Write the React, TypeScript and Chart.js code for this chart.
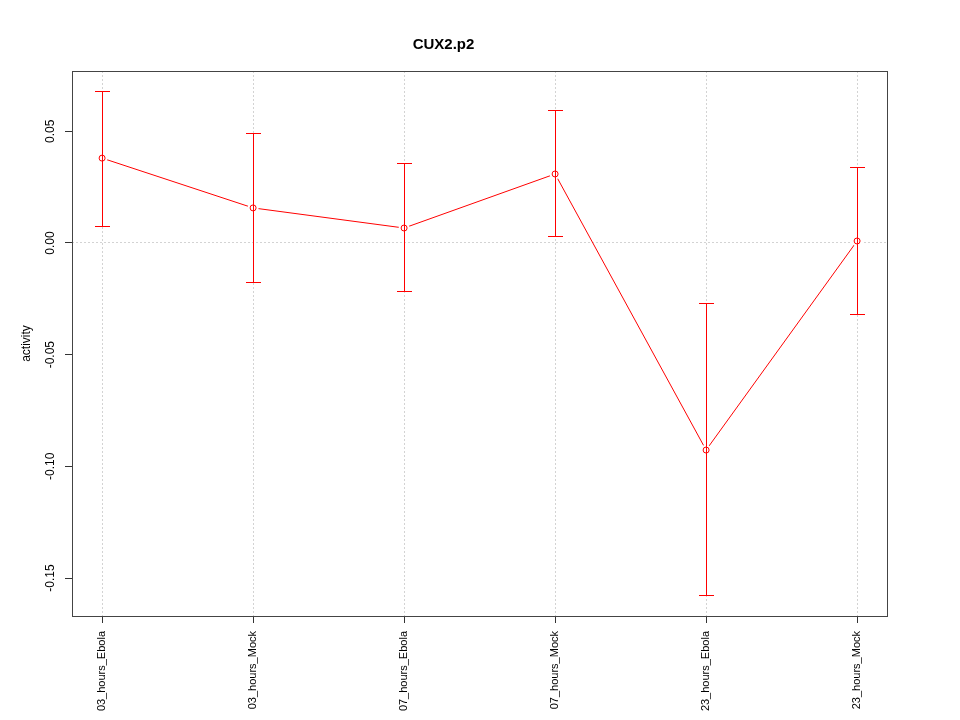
import React, { useEffect, useRef } from "react";
import { Chart, registerables } from "chart.js";

Chart.register(...registerables);

const categories = [
  "03_hours_Ebola",
  "03_hours_Mock",
  "07_hours_Ebola",
  "07_hours_Mock",
  "23_hours_Ebola",
  "23_hours_Mock",
];
const means = [0.038, 0.0157, 0.0067, 0.0309, -0.0927, 0.0009];
const upper = [0.0676, 0.0492, 0.0354, 0.0591, -0.0273, 0.0336];
const lower = [0.0076, -0.0175, -0.0219, 0.0027, -0.158, -0.0318];
const yTicks = [-0.15, -0.1, -0.05, 0, 0.05];
const titleText = "CUX2.p2";
const yTitle = "activity";

const FONT = "'Liberation Sans', Arial, Helvetica, sans-serif";
const RED = "#ff0000";

const align = (p: number) => Math.round(p - 0.5) + 0.5;

const extrasPlugin = {
  id: "extras",
  afterDatasetsDraw(chart: any) {
    const { ctx } = chart;
    const xs = chart.scales.x;
    const ys = chart.scales.y;
    ctx.save();
    ctx.strokeStyle = RED;
    ctx.lineWidth = 1;
    const cap = 7.5;
    for (let i = 0; i < means.length; i++) {
      const x = align(xs.getPixelForValue(i));
      const yt = align(ys.getPixelForValue(upper[i]));
      const yb = align(ys.getPixelForValue(lower[i]));
      ctx.beginPath();
      ctx.moveTo(x, yt);
      ctx.lineTo(x, yb);
      ctx.moveTo(x - cap, yt);
      ctx.lineTo(x + cap, yt);
      ctx.moveTo(x - cap, yb);
      ctx.lineTo(x + cap, yb);
      ctx.stroke();
    }
    ctx.restore();
  },
  afterDraw(chart: any) {
    const { ctx, chartArea } = chart;
    const ys = chart.scales.y;
    ctx.save();
    ctx.strokeStyle = "#444";
    ctx.lineWidth = 1;
    ctx.strokeRect(
      align(chartArea.left),
      align(chartArea.top),
      Math.round(chartArea.right - chartArea.left),
      Math.round(chartArea.bottom - chartArea.top)
    );
    ctx.fillStyle = "#000";
    ctx.font = `12px ${FONT}`;
    ctx.textAlign = "center";
    ctx.textBaseline = "middle";
    for (const v of yTicks) {
      const y = ys.getPixelForValue(v);
      ctx.save();
      ctx.translate(51, y);
      ctx.rotate(-Math.PI / 2);
      ctx.fillText(v.toFixed(2), 0, 0);
      ctx.restore();
    }
    ctx.save();
    ctx.translate(27, (chartArea.top + chartArea.bottom) / 2);
    ctx.rotate(-Math.PI / 2);
    ctx.fillText(yTitle, 0, 0);
    ctx.restore();
    ctx.restore();
  },
};

export default function App() {
  const ref = useRef<HTMLCanvasElement | null>(null);
  useEffect(() => {
    if (!ref.current) return;
    const pts = means.map((v, i) => ({ x: i, y: v }));
    const chart = new Chart(ref.current, {
      type: "line",
      data: {
        datasets: [
          {
            data: pts,
            order: 3,
            borderColor: RED,
            borderWidth: 1,
            pointRadius: 0,
            tension: 0,
          },
          {
            data: pts,
            order: 2,
            showLine: false,
            pointRadius: 5.5,
            pointBorderWidth: 0,
            pointBorderColor: "#ffffff",
            pointBackgroundColor: "#ffffff",
          },
          {
            data: pts,
            order: 1,
            showLine: false,
            pointRadius: 3,
            pointBorderColor: RED,
            pointBackgroundColor: "rgba(0,0,0,0)",
            pointBorderWidth: 1,
          },
        ],
      },
      options: {
        animation: false,
        responsive: false,
        layout: { padding: { left: 0, right: 73, top: 0, bottom: 0 } },
        plugins: {
          legend: { display: false },
          tooltip: { enabled: false },
          title: {
            display: true,
            text: titleText,
            color: "#000",
            font: { family: FONT, size: 15, weight: "bold", lineHeight: 1.2 },
            padding: { top: 36, bottom: 17 },
          },
        },
        scales: {
          x: {
            type: "linear",
            min: -30.1 / 151,
            max: 5 + 29.9 / 151,
            afterBuildTicks: (scale: any) => {
              scale.ticks = categories.map((_, i) => ({ value: i }));
            },
            afterFit: (scale: any) => {
              scale.height = 104;
            },
            ticks: {
              autoSkip: false,
              minRotation: 90,
              maxRotation: 90,
              padding: 8,
              color: "#000",
              font: { family: FONT, size: 11 },
              callback: (v: any) => categories[v] ?? "",
            },
            grid: {
              color: "#d3d3d3",
              tickColor: "#333",
              tickLength: 7,
              tickBorderDash: [],
              lineWidth: 1,
            },
            border: { display: false, dash: [2, 2] },
          },
          y: {
            type: "linear",
            min: -0.167,
            max: 0.077,
            afterBuildTicks: (scale: any) => {
              scale.ticks = yTicks.map((v) => ({ value: v }));
            },
            afterFit: (scale: any) => {
              scale.width = 72;
            },
            ticks: { display: false },
            grid: {
              color: (c: any) =>
                c.tick && Math.abs(c.tick.value) < 1e-9 ? "#d3d3d3" : "rgba(0,0,0,0)",
              tickColor: "#333",
              tickLength: 7,
              tickBorderDash: [],
              lineWidth: 1,
            },
            border: { display: false, dash: [2, 2] },
          },
        },
      },
      plugins: [extrasPlugin],
    });
    return () => chart.destroy();
  }, []);
  return (
    <div style={{ position: "absolute", left: 0, top: 0, width: 960, height: 720, background: "#fff" }}>
      <canvas ref={ref} width={960} height={720} style={{ display: "block" }} />
    </div>
  );
}
